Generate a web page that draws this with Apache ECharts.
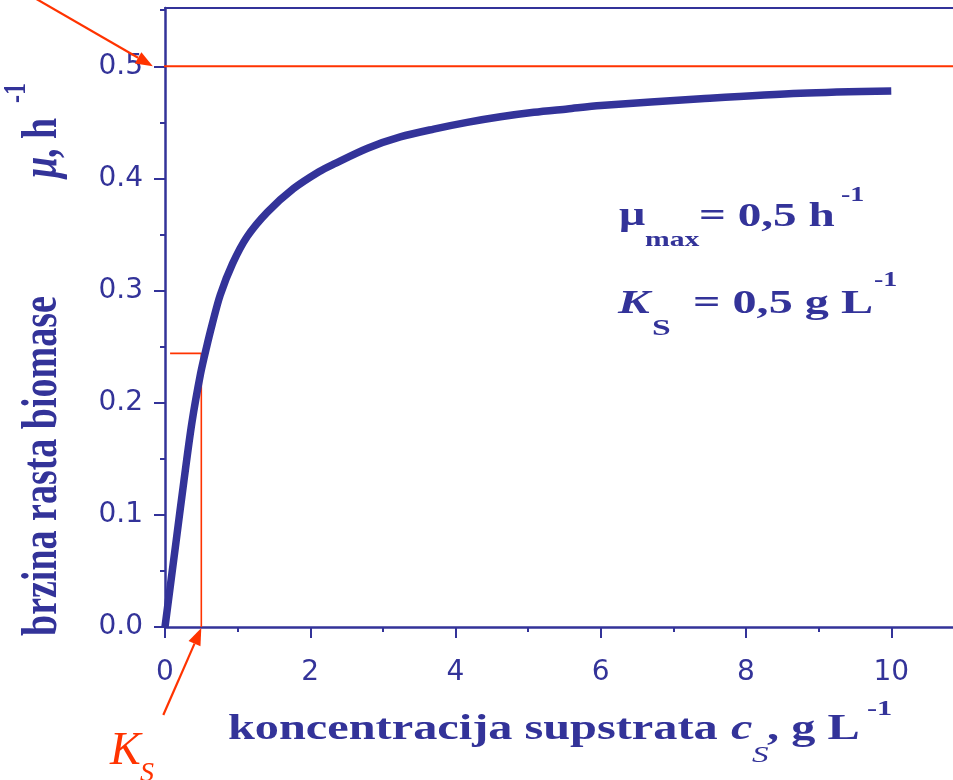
<!DOCTYPE html>
<html>
<head>
<meta charset="utf-8">
<title>Monod – brzina rasta biomase</title>
<script src="https://cdn.jsdelivr.net/npm/echarts@6/dist/echarts.min.js"></script>
<style>
  html, body { margin: 0; padding: 0; background: #ffffff; }
  #chart { width: 953px; height: 780px; }
</style>
</head>
<body>
<div id="chart"></div>
<script>
// Substrate concentration c_S (g/L) and specific growth rate mu (1/h) along the curve
const cs = [0, 0.15, 0.26, 0.37, 0.49, 0.57, 0.65, 0.76, 0.93, 1.13, 1.41, 1.77, 2.12,
            2.33, 2.79, 3.24, 3.70, 4.16, 4.62, 5.08, 5.54, 6.00, 7.38, 8.75, 10.0];
const mu = [0, 0.075, 0.130, 0.182, 0.226, 0.249, 0.270, 0.296, 0.324, 0.348, 0.370, 0.391, 0.406,
            0.413, 0.427, 0.437, 0.444, 0.450, 0.455, 0.459, 0.462, 0.465, 0.471, 0.476, 0.478];

// Model parameters shown in the annotation
const muMax = 0.5;      // h^-1
const kS = 0.5;         // g L^-1
const kSLevel = 0.244;  // level of the horizontal K_S guide

// Axis ticks and labels
const xMajor = [0, 2, 4, 6, 8, 10];
const xMinor = [1, 3, 5, 7, 9];
const yMajor = [0, 0.1, 0.2, 0.3, 0.4, 0.5];
const yMinor = [0.05, 0.15, 0.25, 0.35, 0.45, 0.55];

const BLUE = '#333399';
const RED = '#ff3300';
const SERIF = '"Liberation Serif", "Times New Roman", serif';
const SANS = '"DejaVu Sans", Verdana, sans-serif';
const X_MIN = 0, X_MAX = 10.85, Y_MIN = 0, Y_MAX = 0.552;

const chart = echarts.init(document.getElementById('chart'), null, { renderer: 'canvas' });

const axisLine = { show: true, onZero: false, lineStyle: { color: BLUE, width: 2.5 } };
const hidden = { show: false };

const option = {
  backgroundColor: '#ffffff',
  animation: false,
  grid: { left: 165, right: 0, top: 8, bottom: 153, containLabel: false },
  xAxis: [
    {
      type: 'value', min: X_MIN, max: X_MAX, position: 'bottom',
      axisLine: axisLine,
      axisTick: { show: true, inside: false, length: 11, customValues: xMajor,
                  lineStyle: { color: BLUE, width: 2 } },
      axisLabel: { show: true, customValues: xMajor, margin: 32, color: BLUE,
                   fontFamily: SANS, fontSize: 28, formatter: v => String(Math.round(v)) },
      splitLine: hidden
    },
    {
      type: 'value', min: X_MIN, max: X_MAX, position: 'bottom',
      axisLine: hidden,
      axisTick: { show: true, inside: false, length: 5, customValues: xMinor,
                  lineStyle: { color: BLUE, width: 2 } },
      axisLabel: hidden, splitLine: hidden
    },
    {
      type: 'value', min: X_MIN, max: X_MAX, position: 'top',
      axisLine: { show: true, onZero: false, lineStyle: { color: BLUE, width: 2 } },
      axisTick: hidden, axisLabel: hidden, splitLine: hidden
    }
  ],
  yAxis: [
    {
      type: 'value', min: Y_MIN, max: Y_MAX, position: 'left',
      axisLine: axisLine,
      axisTick: { show: true, inside: false, length: 11, customValues: yMajor,
                  lineStyle: { color: BLUE, width: 2 } },
      axisLabel: { show: true, customValues: yMajor, margin: 22, color: BLUE,
                   fontFamily: SANS, fontSize: 28, formatter: v => v.toFixed(1) },
      splitLine: hidden
    },
    {
      type: 'value', min: Y_MIN, max: Y_MAX, position: 'left',
      axisLine: hidden,
      axisTick: { show: true, inside: false, length: 5, customValues: yMinor,
                  lineStyle: { color: BLUE, width: 2 } },
      axisLabel: hidden, splitLine: hidden
    }
  ],
  series: [
    {
      name: 'mu_max', type: 'line', xAxisIndex: 0, yAxisIndex: 0,
      data: [[-0.14, muMax], [X_MAX, muMax]],
      clip: false, symbol: 'none', silent: true,
      lineStyle: { color: RED, width: 2 }, z: 3
    },
    {
      name: 'K_S', type: 'line', xAxisIndex: 0, yAxisIndex: 0,
      data: [[0.07, kSLevel], [kS, kSLevel], [kS, 0]],
      clip: false, symbol: 'none', silent: true,
      lineStyle: { color: RED, width: 1.6 }, z: 3
    },
    {
      name: 'mu', type: 'line', xAxisIndex: 0, yAxisIndex: 0,
      data: cs.map((c, i) => [c, mu[i]]),
      smooth: 0.3, symbol: 'none', silent: true,
      lineStyle: { color: BLUE, width: 7.5, cap: 'butt', join: 'round' }, z: 4
    }
  ]
};

chart.setOption(option);

// ---- annotation text and arrows ----
const SX = 1.38;   // horizontal widening of the serif lettering

function piece(text, left, baseline, size, o) {
  o = o || {};
  return {
    type: 'text', silent: true, z: 10,
    x: left, y: baseline - 0.34 * size,
    scaleX: o.sx || SX, scaleY: 1,
    style: {
      text: text, fontFamily: SERIF, fontSize: size,
      fontWeight: o.bold === false ? 'normal' : 'bold',
      fontStyle: o.italic ? 'italic' : 'normal',
      fill: o.color || BLUE, align: 'left', verticalAlign: 'middle'
    }
  };
}

// vertical lettering, reading bottom to top; baselineX is the glyph baseline in screen x
function vpiece(text, baselineX, startY, size, o) {
  o = o || {};
  const sy = o.sy || 1.35;
  return {
    type: 'text', silent: true, z: 10,
    x: baselineX - 0.34 * size * sy, y: startY,
    rotation: Math.PI / 2, scaleX: 1, scaleY: sy,
    style: {
      text: text, fontFamily: SERIF, fontSize: size,
      fontWeight: o.bold === false ? 'normal' : 'bold',
      fontStyle: o.italic ? 'italic' : 'normal',
      fill: o.color || BLUE, align: 'left', verticalAlign: 'middle'
    }
  };
}

function arrow(tail, tip, len, half, width) {
  const dx = tip[0] - tail[0], dy = tip[1] - tail[1];
  const d = Math.hypot(dx, dy);
  const ux = dx / d, uy = dy / d;
  const bx = tip[0] - ux * len, by = tip[1] - uy * len;
  const nx = -uy, ny = ux;
  return [
    { type: 'line', silent: true, z: 9,
      shape: { x1: tail[0], y1: tail[1], x2: bx, y2: by },
      style: { stroke: RED, lineWidth: width } },
    { type: 'polygon', silent: true, z: 9,
      shape: { points: [tip, [bx + nx * half, by + ny * half], [bx - nx * half, by - ny * half]] },
      style: { fill: RED } }
  ];
}

const ksFoot = chart.convertToPixel({ xAxisIndex: 0, yAxisIndex: 0 }, [kS, 0]);
const muStart = chart.convertToPixel({ xAxisIndex: 0, yAxisIndex: 0 }, [-0.14, muMax]);

const graphics = [
  // x-axis title
  piece('koncentracija supstrata', 228, 742, 35),
  piece('c', 731, 742, 35, { italic: true }),
  piece('S', 752, 764, 24, { italic: true, bold: false }),
  piece(', g L', 767, 742, 35),
  piece('-1', 867, 717, 22),

  // y-axis title
  vpiece('brzina rasta biomase', 60, 636, 38),
  vpiece('\u03bc', 60, 178, 38, { italic: true }),
  vpiece(', h', 60, 158, 38),
  vpiece('-1', 28, 103, 24),

  // parameter block
  piece('\u03bc', 619, 228, 33, { sx: 1.4 }),
  piece('max', 645, 248, 22, { sx: 1.35 }),
  piece('= 0,5 h', 699, 229, 33, { sx: 1.43 }),
  piece('-1', 841, 203, 20, { sx: 1.4 }),
  piece('K', 618, 316, 34, { italic: true, sx: 1.4 }),
  piece('S', 652, 337, 24, { sx: 1.4 }),
  piece('= 0,5 g L', 693, 316, 33, { sx: 1.46 }),
  piece('-1', 874, 288, 20, { sx: 1.4 }),

  // K_S marker label
  piece('K', 110, 768, 46, { italic: true, bold: false, color: RED, sx: 1.0 }),
  piece('S', 140, 783, 28, { italic: true, bold: false, color: RED, sx: 1.0 })
];

graphics.push(...arrow([ksFoot[0] - 38, ksFoot[1] + 88], [ksFoot[0], ksFoot[1] + 1], 17, 6.5, 2.2));
graphics.push(...arrow([muStart[0] - 175, muStart[1] - 100], [muStart[0] - 2, muStart[1]], 17, 6.5, 2.2));

chart.setOption({ graphic: graphics });
</script>
</body>
</html>
